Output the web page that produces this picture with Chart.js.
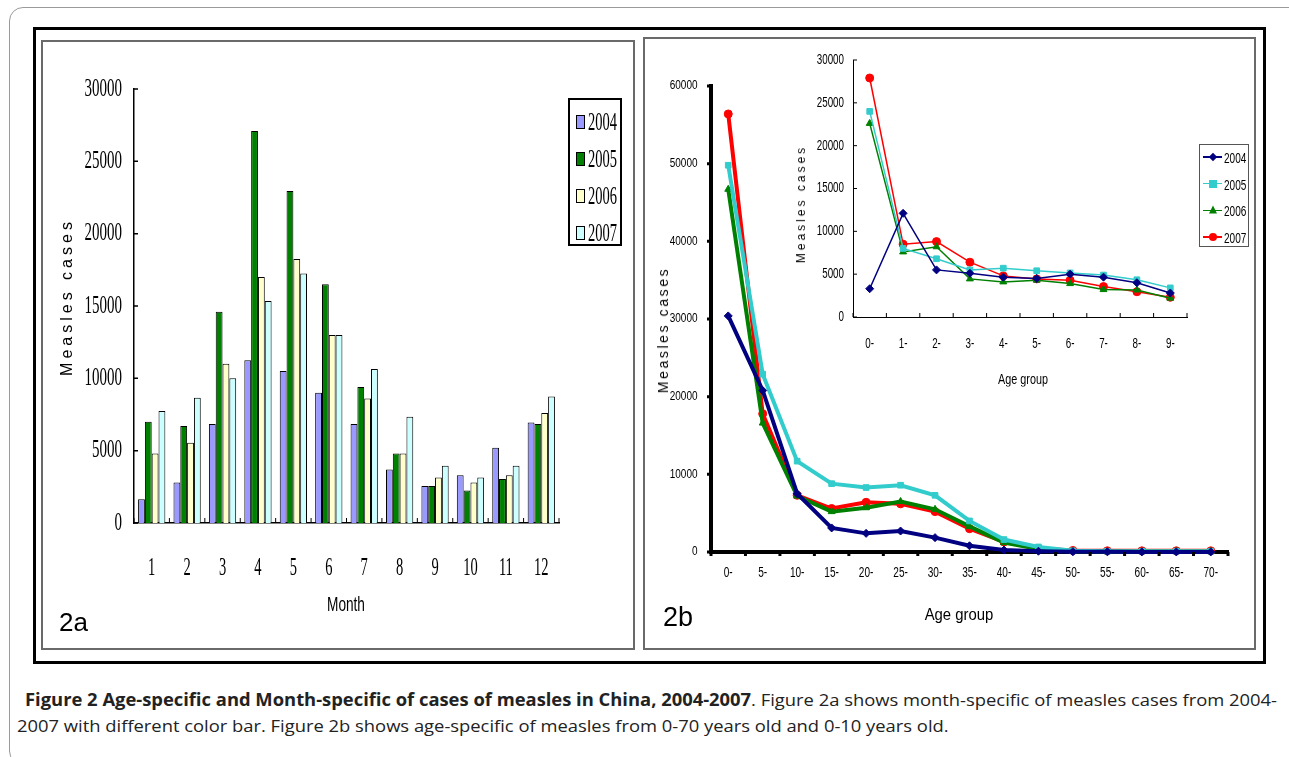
<!DOCTYPE html>
<html>
<head>
<meta charset="utf-8">
<script src="https://cdn.jsdelivr.net/npm/chart.js@4"></script>
<style>
    body { margin: 0; width: 1289px; height: 757px; overflow: hidden; position: relative; background: #fff; font-family: 'Liberation Sans', Arial, sans-serif; color: #000; }
    .abs { position: absolute; }
    #outer { left: 9px; top: 7px; width: 1300px; height: 756px; border: 1px solid #9a9a9a; border-radius: 14px; }
    #frame { left: 33px; top: 27px; width: 1227px; height: 631px; border: 3px solid #000; }
    .panel { border: 2px solid #6a6a6a; }
    canvas { position: absolute; }
    .c { white-space: nowrap; line-height: 1; }
    .cap { position: absolute; white-space: nowrap; font-family: 'Open Sans', 'Noto Sans', sans-serif; font-size: 17px; color: #222; transform-origin: 0 50%; }
    .leg { position: absolute; box-sizing: border-box; }
</style>
</head>
<body>
<div id="outer" class="abs"></div>
<div id="frame" class="abs"></div>
<div class="abs panel" style="left:41px;top:40px;width:590px;height:606px"></div>
<div class="abs panel" style="left:643px;top:37px;width:609px;height:609px"></div>

<canvas id="chartA" width="590" height="606" style="left:43px;top:42px"></canvas>
<canvas id="chartB" width="609" height="609" style="left:645px;top:39px"></canvas>
<canvas id="chartC" width="420" height="350" style="left:780px;top:45px"></canvas>

<div class="abs c" style="left:67px;top:297px;font-size:16px;letter-spacing:4px;transform:translate(-50%,-50%) rotate(-90deg)">Measles cases</div>
<div class="abs c" style="left:346px;top:603px;font-size:21px;transform:translate(-50%,-50%) scaleX(0.65)">Month</div>
<div class="abs c" style="left:59px;top:609px;font-size:26px">2a</div>

<div class="abs c" style="left:663px;top:330px;font-size:14px;letter-spacing:2.6px;transform:translate(-50%,-50%) rotate(-90deg)">Measles cases</div>
<div class="abs c" style="left:959px;top:615px;font-size:16px;transform:translate(-50%,-50%) scaleX(0.93)">Age group</div>
<div class="abs c" style="left:663px;top:604px;font-size:27px">2b</div>

<div class="abs c" style="left:801px;top:204px;font-size:12px;letter-spacing:3px;transform:translate(-50%,-50%) rotate(-90deg)">Measles cases</div>
<div class="abs c" style="left:1023px;top:378px;font-size:15px;transform:translate(-50%,-50%) scaleX(0.72)">Age group</div>

<div id="legA" class="leg" style="left:568px;top:98px;width:54px;height:148px;border:2px solid #000"></div>
<div id="legC" class="leg" style="left:1199px;top:144px;width:50px;height:103px;border:1px solid #555"></div>

<div id="cap1" class="cap" style="left:25px;top:688px"><b>Figure 2 Age-specific and Month-specific of cases of measles in China, 2004-2007</b>. Figure 2a shows month-specific of measles cases from 2004-</div>
<div id="cap2" class="cap" style="left:17px;top:714px">2007 with different color bar. Figure 2b shows age-specific of measles from 0-70 years old and 0-10 years old.</div>

<script>
// 2a: monthly cases
const months = ['1', '2', '3', '4', '5', '6', '7', '8', '9', '10', '11', '12'];
const years = ['2004', '2005', '2006', '2007'];
const month2004 = [1650, 2800, 6850, 11250, 10500, 9000, 6850, 3700, 2550, 3300, 5200, 6950];
const month2005 = [7000, 6700, 14600, 27100, 22950, 16500, 9400, 4800, 2550, 2250, 3050, 6850];
const month2006 = [4800, 5550, 11000, 17000, 18250, 13000, 8600, 4800, 3150, 2800, 3300, 7600];
const month2007 = [7750, 8650, 10000, 15350, 17250, 13000, 10650, 7350, 3950, 3150, 3950, 8750];
const monthTicks = [0, 5000, 10000, 15000, 20000, 25000, 30000];

// 2b: age groups 0-70
const ageGroups = ['0-', '5-', '10-', '15-', '20-', '25-', '30-', '35-', '40-', '45-', '50-', '55-', '60-', '65-', '70-'];
const age2004 = [30400, 20800, 7500, 3100, 2400, 2700, 1850, 800, 250, 100, 30, 20, 10, 10, 10];
const age2005 = [49800, 22900, 11700, 8800, 8300, 8600, 7300, 4000, 1600, 650, 150, 100, 100, 100, 100];
const age2006 = [46700, 16600, 7200, 5200, 5700, 6500, 5500, 3300, 1200, 400, 80, 50, 50, 50, 50];
const age2007 = [56400, 17800, 7300, 5600, 6400, 6200, 5200, 3000, 1300, 450, 200, 150, 150, 150, 150];
const ageTicks = [0, 10000, 20000, 30000, 40000, 50000, 60000];

// 2b inset: ages 0-9
const childGroups = ['0-', '1-', '2-', '3-', '4-', '5-', '6-', '7-', '8-', '9-'];
const child2004 = [3300, 12100, 5500, 5100, 4650, 4500, 5000, 4650, 4000, 2800];
const child2005 = [24000, 8000, 6800, 5500, 5700, 5400, 5150, 4900, 4350, 3400];
const child2006 = [22600, 7600, 8200, 4450, 4100, 4300, 3900, 3200, 3150, 2200];
const child2007 = [27900, 8500, 8800, 6400, 4800, 4450, 4300, 3550, 2950, 2300];
const childTicks = [0, 5000, 10000, 15000, 20000, 25000, 30000];

const barColors = ['#9999ff', '#008000', '#ffffcc', '#ccffff'];
const lineColors = ['#000080', '#33cccc', '#008000', '#ff0000'];
const markers = ['rectRot', 'rect', 'triangle', 'circle'];

// tick marks at category boundaries / value ticks; len > 0 points into the plot
function axisTicks(spec) {
    return {
        id: 'axisTicks',
        afterDatasetsDraw(chart) {
            const ctx = chart.ctx;
            ctx.save();
            ctx.strokeStyle = '#000';
            for (const id in spec) {
                const s = spec[id], scale = chart.scales[id];
                ctx.lineWidth = s.width;
                ctx.beginPath();
                if (scale.isHorizontal()) {
                    for (let i = 0; i <= scale.ticks.length; i++) {
                        const x = scale.getPixelForValue(i - 0.5);
                        ctx.moveTo(x, scale.top);
                        ctx.lineTo(x, scale.top - s.len);
                    }
                } else {
                    scale.ticks.forEach((t, i) => {
                        const y = scale.getPixelForTick(i);
                        ctx.moveTo(scale.right, y);
                        ctx.lineTo(scale.right + s.len, y);
                    });
                }
                ctx.stroke();
            }
            ctx.restore();
        }
    };
}

// narrow tick labels (the original uses condensed faces)
function narrowLabels(spec) {
    return {
        id: 'narrowLabels',
        afterDraw(chart) {
            const ctx = chart.ctx;
            for (const id in spec) {
                const s = spec[id], scale = chart.scales[id];
                const horiz = scale.isHorizontal();
                ctx.save();
                ctx.font = s.font;
                ctx.fillStyle = '#000';
                ctx.textBaseline = 'middle';
                ctx.textAlign = horiz ? 'center' : 'right';
                scale.ticks.forEach((t, i) => {
                    const p = scale.getPixelForTick(i);
                    ctx.save();
                    if (horiz) ctx.translate(p, scale.top + s.gap);
                    else ctx.translate(scale.right - s.gap, p);
                    ctx.scale(s.sx, 1);
                    ctx.fillText(t.label, 0, 0);
                    ctx.restore();
                });
                ctx.restore();
            }
        }
    };
}

function fixedTicks(list) {
    return s => { s.ticks = list.map(v => ({ value: v })); };
}

new Chart(document.getElementById('chartA'), {
    type: 'bar',
    data: {
        labels: months,
        datasets: [month2004, month2005, month2006, month2007].map((d, i) => ({
            label: years[i],
            data: d,
            backgroundColor: barColors[i],
            borderColor: '#000',
            borderWidth: 1,
            categoryPercentage: 0.77,
            barPercentage: 1
        }))
    },
    options: {
        responsive: false,
        animation: false,
        layout: { padding: { top: 47, right: 74, left: 0, bottom: 0 } },
        plugins: { legend: { display: false }, tooltip: { enabled: false } },
        scales: {
            x: {
                grid: { display: false },
                ticks: { display: false },
                border: { color: '#000', width: 1.5 },
                afterFit: s => { s.height = 125; }
            },
            y: {
                min: 0, max: 30000,
                grid: { display: false },
                ticks: { display: false, callback: v => String(v) },
                border: { color: '#000', width: 1.5 },
                afterBuildTicks: fixedTicks(monthTicks),
                afterFit: s => { s.width = 91; }
            }
        }
    },
    plugins: [
        axisTicks({ x: { len: 5, width: 1 }, y: { len: 4, width: 1.5 } }),
        narrowLabels({
            x: { font: "25px 'Liberation Serif'", sx: 0.58, gap: 45 },
            y: { font: "25px 'Liberation Serif'", sx: 0.6, gap: 12 }
        })
    ]
});

new Chart(document.getElementById('chartB'), {
    type: 'line',
    data: {
        labels: ageGroups,
        datasets: [age2004, age2005, age2006, age2007].map((d, i) => ({
            label: years[i],
            data: d,
            borderColor: lineColors[i],
            backgroundColor: lineColors[i],
            borderWidth: 4,
            pointStyle: markers[i],
            pointRadius: 4,
            pointBorderWidth: 1,
            tension: 0,
            clip: false
        }))
    },
    options: {
        responsive: false,
        animation: false,
        layout: { padding: { top: 47, right: 26, left: 0, bottom: 0 } },
        plugins: { legend: { display: false }, tooltip: { enabled: false } },
        scales: {
            x: {
                offset: true,
                grid: { display: false },
                ticks: { display: false },
                border: { color: '#000', width: 4 },
                afterFit: s => { s.height = 96; }
            },
            y: {
                min: 0, max: 60000,
                grid: { display: false },
                ticks: { display: false, callback: v => String(v) },
                border: { color: '#000', width: 4 },
                afterBuildTicks: fixedTicks(ageTicks),
                afterFit: s => { s.width = 66; }
            }
        }
    },
    plugins: [
        axisTicks({ x: { len: -4, width: 3 }, y: { len: -4, width: 3 } }),
        narrowLabels({
            x: { font: "14px 'Liberation Sans'", sx: 0.72, gap: 21 },
            y: { font: "12.5px 'Liberation Sans'", sx: 0.8, gap: 13.5 }
        })
    ]
});

new Chart(document.getElementById('chartC'), {
    type: 'line',
    data: {
        labels: childGroups,
        datasets: [child2004, child2005, child2006, child2007].map((d, i) => ({
            label: years[i],
            data: d,
            borderColor: lineColors[i],
            backgroundColor: lineColors[i],
            borderWidth: 1.5,
            pointStyle: markers[i],
            pointRadius: 4,
            pointBorderWidth: 1,
            tension: 0,
            clip: false
        }))
    },
    options: {
        responsive: false,
        animation: false,
        layout: { padding: { top: 15, right: 13, left: 0, bottom: 0 } },
        plugins: { legend: { display: false }, tooltip: { enabled: false } },
        scales: {
            x: {
                offset: true,
                grid: { display: false },
                ticks: { display: false },
                border: { color: '#000', width: 1 },
                afterFit: s => { s.height = 78; }
            },
            y: {
                min: 0, max: 30000,
                grid: { display: false },
                ticks: { display: false, callback: v => String(v) },
                border: { color: '#000', width: 1 },
                afterBuildTicks: fixedTicks(childTicks),
                afterFit: s => { s.width = 73; }
            }
        }
    },
    plugins: [
        axisTicks({ x: { len: 4, width: 1 }, y: { len: 4, width: 1 } }),
        narrowLabels({
            x: { font: "14px 'Liberation Sans'", sx: 0.7, gap: 27 },
            y: { font: "14px 'Liberation Sans'", sx: 0.7, gap: 9 }
        })
    ]
});

// legends
const legA = document.getElementById('legA');
years.forEach((y, i) => {
    const cy = 22 + i * 37;
    legA.insertAdjacentHTML('beforeend',
        `<div class="abs" style="left:6px;top:${cy - 7}px;width:7px;height:12px;background:${barColors[i]};border:1px solid #000"></div>` +
        `<div class="abs c" style="left:18px;top:${cy}px;font:25px 'Liberation Serif';transform:translateY(-50%) scaleX(0.58);transform-origin:0 50%">${y}</div>`);
});

const legC = document.getElementById('legC');
const markerCss = [
    c => `width:6px;height:6px;background:${c};transform:translate(-50%,-50%) rotate(45deg)`,
    c => `width:8px;height:8px;background:${c};transform:translate(-50%,-50%)`,
    c => `width:0;height:0;border-left:4px solid transparent;border-right:4px solid transparent;border-bottom:8px solid ${c};transform:translate(-50%,-55%)`,
    c => `width:8px;height:8px;border-radius:50%;background:${c};transform:translate(-50%,-50%)`
];
years.forEach((y, i) => {
    const cy = 12 + i * 26.7;
    const c = lineColors[i];
    legC.insertAdjacentHTML('beforeend',
        `<div class="abs" style="left:3px;top:${cy - 0.75}px;width:19px;height:1.5px;background:${c}"></div>` +
        `<div class="abs" style="left:12.5px;top:${cy}px;${markerCss[i](c)}"></div>` +
        `<div class="abs c" style="left:24px;top:${cy}px;font:15px 'Liberation Sans';transform:translateY(-50%) scaleX(0.67);transform-origin:0 50%">${y}</div>`);
});

// caption fitted to the original line width
const cap1 = document.getElementById('cap1');
const k = 1252 / cap1.getBoundingClientRect().width;
document.querySelectorAll('.cap').forEach(el => { el.style.transform = `scaleX(${k})`; });
</script>
</body>
</html>
